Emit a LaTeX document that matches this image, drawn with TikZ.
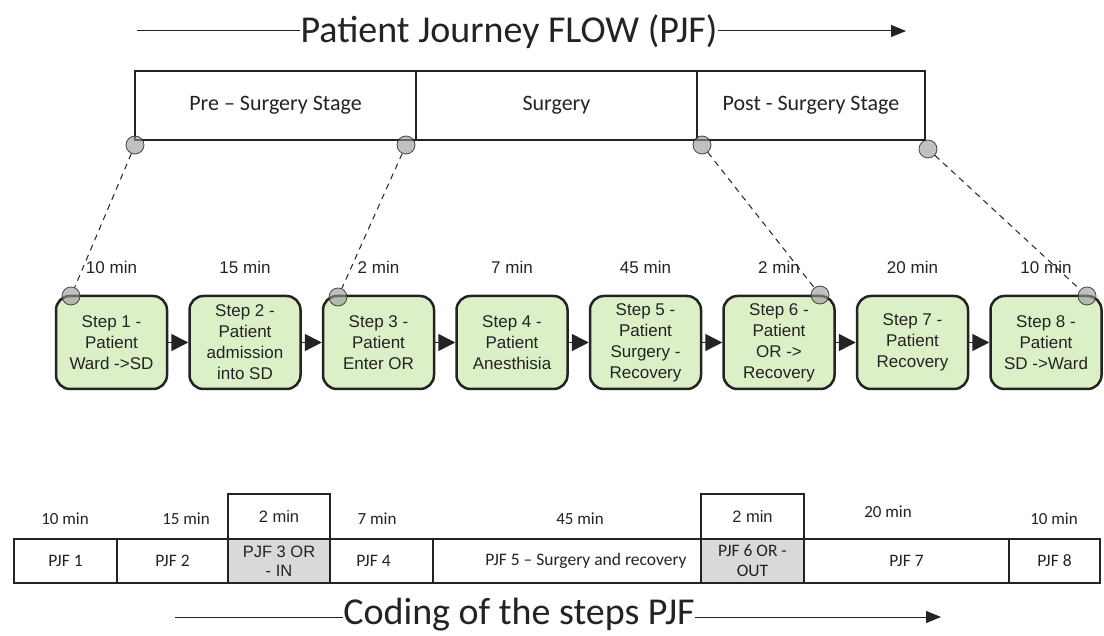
\documentclass[tikz,border=0pt]{standalone}
\usepackage{fontspec}
\setmainfont{Carlito}
\newfontfamily\arial{Liberation Sans}
\usetikzlibrary{arrows.meta}
\definecolor{stepgreen}{RGB}{220,240,200}
\definecolor{linec}{RGB}{35,35,35}
\definecolor{txtc}{RGB}{35,35,35}
\definecolor{circg}{RGB}{150,150,150}
\definecolor{cellg}{RGB}{217,217,217}
\begin{document}
\begin{tikzpicture}[x=1pt,y=-1pt,
  titletext/.style={inner sep=0pt,text=txtc,font=\fontsize{38}{40}\selectfont},
  titleline/.style={draw=linec,line width=1pt},
  stagebox/.style={draw=linec,line width=1.5pt,rectangle,minimum height=69pt,text=txtc,font=\fontsize{22}{24}\selectfont},
  dotc/.style={circle,minimum size=18pt,inner sep=0pt,fill=circg,fill opacity=0.6,draw=linec,draw opacity=0.8,line width=0.8pt},
  stepbox/.style={draw=linec,line width=2.5pt,fill=stepgreen,rounded corners=14pt,minimum width=111pt,minimum height=93pt,inner sep=0pt,align=center,text=txtc,font=\arial\fontsize{17}{21}\selectfont},
  timelab/.style={text=txtc,font=\arial\fontsize{17}{18}\selectfont,inner sep=0pt},
  steparrow/.style={draw=linec,line width=1.5pt,-{Triangle[length=17pt,width=17pt]}},
  dashc/.style={draw=linec,line width=1pt,dash pattern=on 6pt off 5pt},
  cell/.style={draw=linec,line width=1.5pt,rectangle,minimum height=44pt,inner sep=0pt,align=center,text=txtc,font=\fontsize{17.5}{20}\selectfont},
  graycell/.style={cell,fill=cellg},
  botlab/.style={text=txtc,font=\fontsize{17}{18}\selectfont,inner sep=0pt}
]
\useasboundingbox[fill=white] (0,0) rectangle (1104,636);

% ---- title
\node[titletext] (t1) at (509,32) {Patient Journey FLOW (PJF)};
\coordinate (t1l) at (137,31);
\coordinate (t1r) at (906,31);
\draw[titleline] (t1l) -- (t1l -| t1.west);
\draw[titleline,-{Triangle[length=15pt,width=12pt]}] (t1r -| t1.east) -- (t1r);

% ---- stage boxes
\node[stagebox,minimum width=281pt] (sg1) at (275.5,105.5) {Pre – Surgery Stage};
\node[stagebox,minimum width=281pt] (sg2) at (556.5,105.5) {Surgery};
\node[stagebox,minimum width=228pt] (sg3) at (811,105.5) {Post - Surgery Stage};

% ---- steps
\node[stepbox] (st1) at (111.5,342.5) {Step 1 -\\Patient\\Ward ->SD};
\node[stepbox] (st2) at (245,342.5) {Step 2 -\\Patient\\admission\\into SD};
\node[stepbox] (st3) at (378.5,342.5) {Step 3 -\\Patient\\Enter OR};
\node[stepbox] (st4) at (512,342.5) {Step 4 -\\Patient\\Anesthisia};
\node[stepbox] (st5) at (645.5,342.5) {Step 5 -\\Patient\\Surgery -\\Recovery};
\node[stepbox] (st6) at (779,342.5) {Step 6 -\\Patient\\OR ->\\Recovery};
\node[stepbox] (st7) at (912.5,342.5) {Step 7 -\\Patient\\Recovery};
\node[stepbox] (st8) at (1046,342.5) {Step 8 -\\Patient\\SD ->Ward};

\draw[steparrow] (st1) -- (st2);
\draw[steparrow] (st2) -- (st3);
\draw[steparrow] (st3) -- (st4);
\draw[steparrow] (st4) -- (st5);
\draw[steparrow] (st5) -- (st6);
\draw[steparrow] (st6) -- (st7);
\draw[steparrow] (st7) -- (st8);

% ---- time labels
\node[timelab] (tl1) at (111.5,267) {10 min};
\node[timelab] (tl2) at (245,267) {15 min};
\node[timelab] (tl3) at (378.5,267) {2 min};
\node[timelab] (tl4) at (512,267) {7 min};
\node[timelab] (tl5) at (645.5,267) {45 min};
\node[timelab] (tl6) at (779,267) {2 min};
\node[timelab] (tl7) at (912.5,267) {20 min};
\node[timelab] (tl8) at (1046,267) {10 min};

% ---- circles and dashed links
\node[dotc] (c1) at (135,145) {};
\node[dotc] (c2) at (406,145) {};
\node[dotc] (c3) at (702,145) {};
\node[dotc] (c4) at (928,149) {};
\node[dotc] (d1) at (71,296) {};
\node[dotc] (d3) at (338,297) {};
\node[dotc] (d6) at (820,295) {};
\node[dotc] (d8) at (1087,296) {};
\draw[dashc] (c1) -- (d1);
\draw[dashc] (c2) -- (d3);
\draw[dashc] (c3) -- (d6);
\draw[dashc] (c4) -- (d8);

% ---- bottom coding table
\node[cell,minimum width=103pt] (p1) at (65.5,561) {PJF 1};
\node[cell,minimum width=111pt] (p2) at (172.5,561) {PJF 2};
\node[graycell,minimum width=102pt,font=\arial\fontsize{16.5}{19}\selectfont] (p3) at (279,561) {PJF 3 OR\\- IN};
\node[cell,minimum width=103pt] (p4) at (381.5,561) {\hspace*{0pt}PJF 4\hspace*{16pt}};
\node[cell,minimum width=268pt] (p5) at (567,561) {\hspace*{38pt}PJF 5 – Surgery and recovery};
\node[graycell,minimum width=103pt] (p6) at (752.5,561) {PJF 6 OR -\\OUT};
\node[cell,minimum width=205pt] (p7) at (906.5,561) {PJF 7};
\node[cell,minimum width=91pt,line width=2pt] (p8) at (1054.5,561) {PJF 8};

\node[cell,minimum width=102pt,minimum height=45pt,font=\arial\fontsize{16.5}{19}\selectfont] (h3) at (279,516.5) {2 min};
\node[cell,minimum width=103pt,minimum height=45pt,font=\arial\fontsize{16.5}{19}\selectfont] (h6) at (752.5,516.5) {2 min};

\node[botlab] (b1) at (65,519) {10 min};
\node[botlab] (b2) at (186,519) {15 min};
\node[botlab] (b4) at (377,519) {7 min};
\node[botlab] (b5) at (580,519) {45 min};
\node[botlab] (b7) at (888,512) {20 min};
\node[botlab] (b8) at (1054,519) {10 min};

% ---- bottom title
\node[titletext] (t2) at (519,615) {Coding of the steps PJF};
\coordinate (t2l) at (175,617);
\coordinate (t2r) at (941,617);
\draw[titleline] (t2l) -- (t2l -| t2.west);
\draw[titleline,-{Triangle[length=15pt,width=12pt]}] (t2r -| t2.east) -- (t2r);
\end{tikzpicture}
\end{document}
